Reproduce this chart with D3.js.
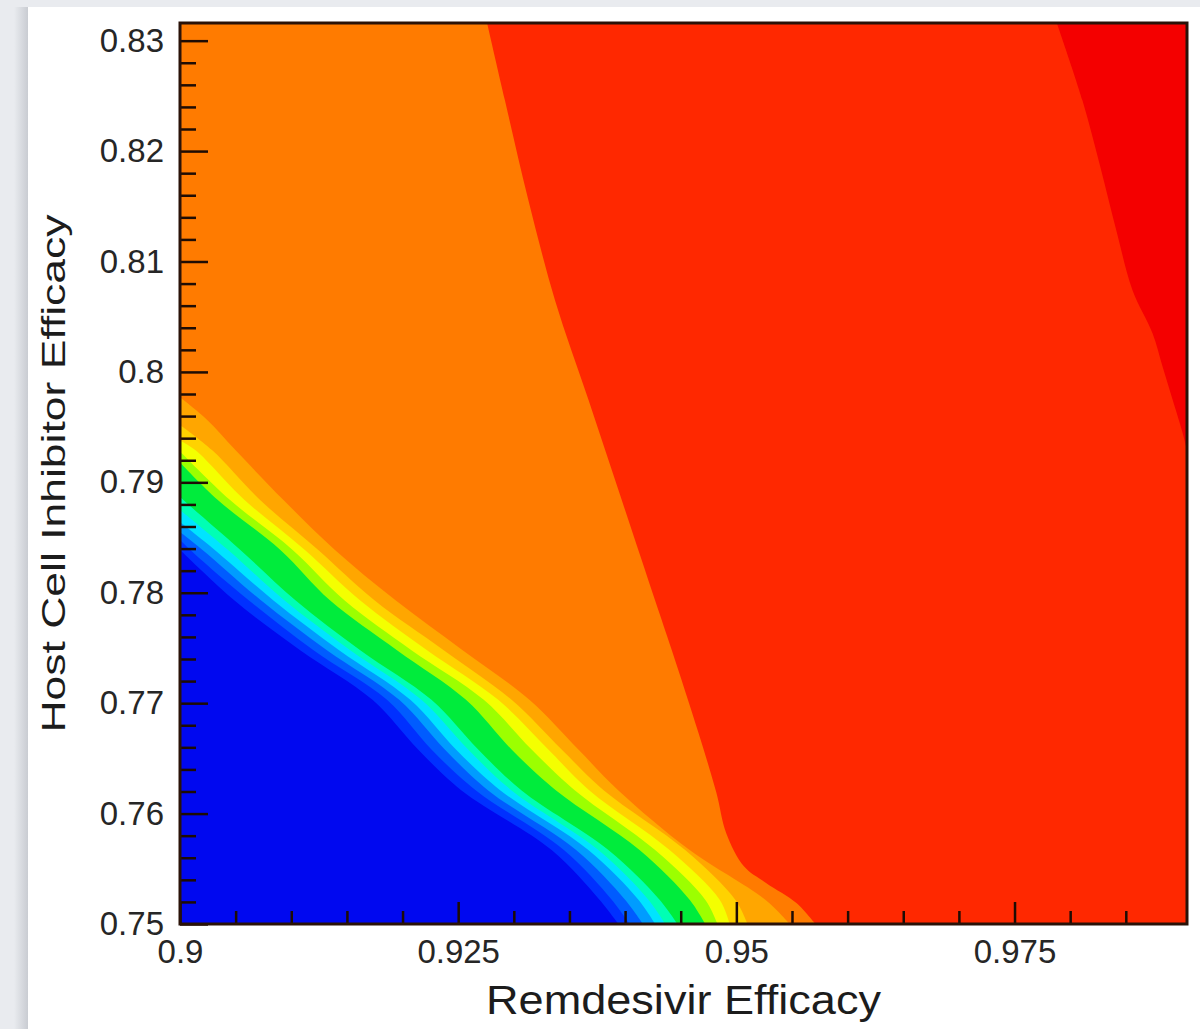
<!DOCTYPE html>
<html>
<head>
<meta charset="utf-8">
<script src="https://cdn.jsdelivr.net/npm/d3@7"></script>
<style>
  html, body { margin: 0; padding: 0; background: #e9ebef; }
  svg { display: block; }
  .tick text { font-family: "Liberation Sans", Arial, sans-serif; fill: #262626; }
  .title { font-family: "Liberation Sans", Arial, sans-serif; fill: #1c1c1c; }
</style>
</head>
<body>
<svg id="chart" width="1200" height="1029"></svg>
<script>
// axis ranges and ticks
var remRange = [0.9, 0.9905];
var hostRange = [0.75, 0.8316];
var remTicks = [0.9, 0.925, 0.95, 0.975];
var remTickLabels = ['0.9', '0.925', '0.95', '0.975'];
var hostTicks = [0.75, 0.76, 0.77, 0.78, 0.79, 0.8, 0.81, 0.82, 0.83];
var hostTickLabels = ['0.75', '0.76', '0.77', '0.78', '0.79', '0.8', '0.81', '0.82', '0.83'];

// contour levels, lowest (lower left) to highest (upper right)
var levelColors = ['#0008f0', '#0030ff', '#005cff', '#009cff', '#00e4ff', '#00ffb4',
    '#00ec3c', '#9cff00', '#f4ff00', '#ffd200', '#ffa600', '#ff7b00', '#ff2800', '#f40000'];

// level boundaries as [remdesivir, host cell] pairs
var edgeBlue1 = [[0.9000, 0.7839], [0.9049, 0.7793], [0.9108, 0.7748], [0.9173, 0.7703], [0.9214, 0.7658],
    [0.9253, 0.7621], [0.9334, 0.7567], [0.9377, 0.7522], [0.9394, 0.75]];
var edgeBlue2 = [[0.9000, 0.7848], [0.9009, 0.7839], [0.9062, 0.7793], [0.9120, 0.7748], [0.9186, 0.7703],
    [0.9226, 0.7658], [0.9266, 0.7621], [0.9345, 0.7567], [0.9388, 0.7522], [0.9404, 0.75]];
var edgeLightBlue = [[0.9000, 0.7855], [0.9020, 0.7839], [0.9073, 0.7793], [0.9132, 0.7748], [0.9197, 0.7703],
    [0.9238, 0.7658], [0.9277, 0.7621], [0.9356, 0.7567], [0.9400, 0.7522], [0.9416, 0.75]];
var edgeCyan = [[0.9000, 0.7864], [0.9031, 0.7839], [0.9084, 0.7793], [0.9143, 0.7748], [0.9207, 0.7703],
    [0.9248, 0.7658], [0.9288, 0.7621], [0.9367, 0.7567], [0.9412, 0.7522], [0.9427, 0.75]];
var edgeAqua = [[0.9000, 0.7875], [0.9043, 0.7839], [0.9094, 0.7793], [0.9153, 0.7748], [0.9217, 0.7703],
    [0.9259, 0.7658], [0.9298, 0.7621], [0.9376, 0.7567], [0.9421, 0.7522], [0.9436, 0.75]];
var edgeGreen = [[0.9000, 0.7887], [0.9003, 0.7884], [0.9054, 0.7839], [0.9104, 0.7793], [0.9162, 0.7748],
    [0.9226, 0.7703], [0.9268, 0.7658], [0.9307, 0.7621], [0.9385, 0.7567], [0.9431, 0.7522], [0.9447, 0.75]];
var edgeLime = [[0.9000, 0.7918], [0.9034, 0.7884], [0.9090, 0.7839], [0.9135, 0.7793], [0.9195, 0.7748],
    [0.9257, 0.7703], [0.9298, 0.7658], [0.9338, 0.7621], [0.9413, 0.7567], [0.9458, 0.7522], [0.9472, 0.75]];
var edgeYellow = [[0.9000, 0.7928], [0.9045, 0.7884], [0.9101, 0.7839], [0.9148, 0.7793], [0.9208, 0.7748],
    [0.9273, 0.7703], [0.9316, 0.7658], [0.9355, 0.7621], [0.9427, 0.7567], [0.9472, 0.7522], [0.9483, 0.75]];
var edgeGold = [[0.9000, 0.7938], [0.9014, 0.7929], [0.9058, 0.7884], [0.9112, 0.7839], [0.9162, 0.7793],
    [0.9222, 0.7748], [0.9286, 0.7703], [0.9331, 0.7658], [0.9368, 0.7621], [0.9440, 0.7567], [0.9485, 0.7522],
    [0.9494, 0.75]];
var edgeAmber = [[0.9000, 0.7952], [0.9029, 0.7929], [0.9072, 0.7884], [0.9124, 0.7839], [0.9175, 0.7793],
    [0.9237, 0.7748], [0.9298, 0.7703], [0.9343, 0.7658], [0.9381, 0.7621], [0.9454, 0.7567], [0.9499, 0.7522],
    [0.9510, 0.75]];
var edgeOrange = [[0.9000, 0.7977], [0.9024, 0.7957], [0.9050, 0.7929], [0.9093, 0.7884], [0.9139, 0.7839],
    [0.9194, 0.7793], [0.9254, 0.7748], [0.9314, 0.7703], [0.9358, 0.7658], [0.9394, 0.7621], [0.9458, 0.7567],
    [0.9526, 0.7522], [0.9548, 0.75]];
var edgeRedOrange = [[0.9276, 0.8316], [0.9292, 0.8246], [0.9313, 0.8156], [0.9337, 0.8065], [0.9367, 0.7975],
    [0.9397, 0.7884], [0.9427, 0.7793], [0.9442, 0.7748], [0.9466, 0.7673], [0.9482, 0.7619], [0.9491, 0.7582],
    [0.9507, 0.7552], [0.9527, 0.7537], [0.9554, 0.7519], [0.9571, 0.75]];
var edgeRed = [[0.9788, 0.8316], [0.9811, 0.8246], [0.9827, 0.8186], [0.9842, 0.8126], [0.9856, 0.8074],
    [0.9874, 0.8035], [0.9883, 0.8005], [0.9892, 0.7975], [0.9901, 0.7945], [0.9905, 0.7929]];

var edges = [edgeBlue1, edgeBlue2, edgeLightBlue, edgeCyan, edgeAqua, edgeGreen, edgeLime,
    edgeYellow, edgeGold, edgeAmber, edgeOrange, edgeRedOrange, edgeRed];

var svg = d3.select('#chart');
var margin = { top: 23, left: 180 }
    , width = 1007
    , height = 901;

var xScale = d3.scaleLinear().domain(remRange).range([0, width]);
var yScale = d3.scaleLinear().domain(hostRange).range([height, 0]);

// page card
svg.append('rect').attr('width', 1200).attr('height', 1029).attr('fill', '#e9ebef');
var grad = svg.append('defs').append('linearGradient').attr('id', 'shade');
grad.append('stop').attr('offset', '0%').attr('stop-color', '#e9ebef');
grad.append('stop').attr('offset', '100%').attr('stop-color', '#c9ccd2');
svg.append('rect').attr('x', 14).attr('y', 7).attr('width', 14).attr('height', 1022).attr('fill', 'url(#shade)');
svg.append('rect').attr('x', 28).attr('y', 7).attr('width', 1172).attr('height', 1022).attr('fill', '#fff');

var g = svg.append('g').attr('transform', `translate(${margin.left},${margin.top})`);

g.append('clipPath').attr('id', 'plot-clip')
    .append('rect').attr('width', width).attr('height', height);

// corners that close a boundary into the region above / right of it
function corners(pts) {
    var out = [];
    var first = pts[0], last = pts[pts.length - 1];
    if (last[1] <= hostRange[0]) out.push([remRange[1], hostRange[0]]);
    out.push([remRange[1], hostRange[1]]);
    if (first[0] <= remRange[0]) out.push([remRange[0], hostRange[1]]);
    return out;
}

var edgeLine = d3.line()
    .x(d => xScale(d[0]))
    .y(d => yScale(d[1]))
    .curve(d3.curveCatmullRom.alpha(0.5));

function regionPath(pts) {
    return edgeLine(pts)
        + corners(pts).map(c => 'L' + xScale(c[0]) + ',' + yScale(c[1])).join('')
        + 'Z';
}

var bands = g.append('g').attr('clip-path', 'url(#plot-clip)');
bands.append('rect')
    .attr('width', width)
    .attr('height', height)
    .attr('fill', levelColors[0]);
bands.selectAll('path.level')
    .data(edges)
    .enter()
    .append('path')
    .classed('level', true)
    .attr('d', regionPath)
    .attr('fill', (_, i) => levelColors[i + 1]);

// ticks, drawn inward
var remMinor = d3.range(0.905, 0.986, 0.005).filter(v => !remTicks.some(t => Math.abs(t - v) < 1e-6));
var hostMinor = d3.range(0.752, 0.8305, 0.002).filter(v => !hostTicks.some(t => Math.abs(t - v) < 1e-6));

g.append('g')
    .classed('x-axis', true)
    .attr('transform', 'translate(0,' + height + ')')
    .call(d3.axisBottom(xScale).tickValues(remTicks).tickFormat((_, i) => remTickLabels[i])
        .tickSizeInner(-22).tickSizeOuter(0).tickPadding(16));
g.append('g')
    .attr('transform', 'translate(0,' + height + ')')
    .call(d3.axisBottom(xScale).tickValues(remMinor).tickFormat('').tickSizeInner(-13).tickSizeOuter(0));
g.append('g')
    .classed('y-axis', true)
    .call(d3.axisLeft(yScale).tickValues(hostTicks).tickFormat((_, i) => hostTickLabels[i])
        .tickSizeInner(-28).tickSizeOuter(0).tickPadding(16));
g.append('g')
    .call(d3.axisLeft(yScale).tickValues(hostMinor).tickFormat('').tickSizeInner(-16).tickSizeOuter(0));

g.selectAll('.domain').remove();
g.selectAll('.tick line').attr('stroke', '#1e0c04').attr('stroke-width', 2.5);
g.selectAll('.tick text').attr('font-size', 33);

// frame
g.append('rect')
    .attr('width', width)
    .attr('height', height)
    .attr('fill', 'none')
    .attr('stroke', '#2a1208')
    .attr('stroke-width', 3);

// axis titles
svg.append('text')
    .classed('title', true)
    .attr('x', margin.left + width / 2)
    .attr('y', 1014)
    .attr('text-anchor', 'middle')
    .attr('font-size', 40)
    .attr('textLength', 395)
    .attr('lengthAdjust', 'spacingAndGlyphs')
    .text('Remdesivir Efficacy');
svg.append('text')
    .classed('title', true)
    .attr('transform', `translate(65,${margin.top + height / 2}) rotate(-90)`)
    .attr('text-anchor', 'middle')
    .attr('font-size', 33)
    .attr('textLength', 518)
    .attr('lengthAdjust', 'spacingAndGlyphs')
    .text('Host Cell Inhibitor Efficacy');
</script>
</body>
</html>
